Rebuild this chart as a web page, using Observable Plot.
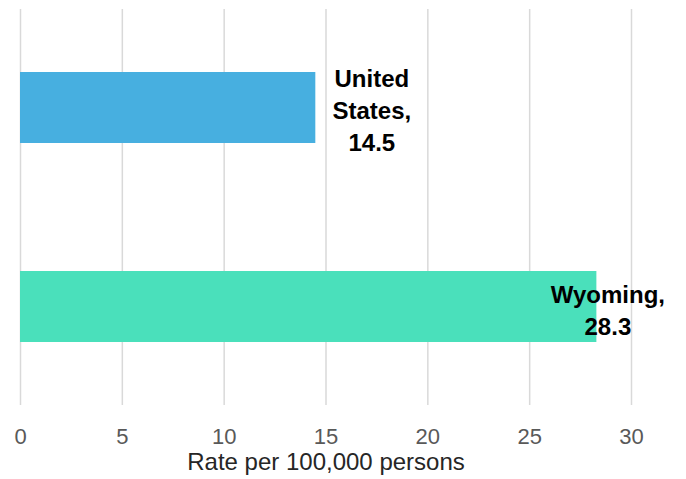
<!DOCTYPE html>
<html>
<head>
<meta charset="utf-8">
<script src="https://cdn.jsdelivr.net/npm/d3@7"></script>
<script src="https://cdn.jsdelivr.net/npm/@observablehq/plot@0.6"></script>
<style>
  html, body { margin: 0; padding: 0; background: #fff; }
  #chart svg { display: block; }
</style>
</head>
<body>
<div id="chart"></div>
<script>
const categories = ["United States", "Wyoming"];
const values = [14.5, 28.3];
const labels = ["United\nStates,\n14.5", "Wyoming,\n28.3"];
const colors = ["#47AFE0", "#4AE0BB"];
const xTicks = [0, 5, 10, 15, 20, 25, 30];
const axisTitle = "Rate per 100,000 persons";

const data = categories.map((c, i) => ({category: c, value: values[i], label: labels[i]}));

const chart = Plot.plot({
  width: 686,
  height: 479,
  marginTop: 9,
  marginBottom: 74,
  marginLeft: 20,
  marginRight: 55,
  style: {fontFamily: "'Liberation Sans', Arial, sans-serif", background: "#fff"},
  x: {domain: [0, 30], axis: null},
  y: {domain: categories, paddingInner: 0.643, paddingOuter: 0.316, axis: null},
  color: {domain: categories, range: colors},
  marks: [
    Plot.gridX(xTicks, {stroke: "#d9d9d9", strokeOpacity: 1, strokeWidth: 1.5}),
    Plot.barX(data, {x: "value", y: "category", fill: "category"}),
    Plot.axisX(xTicks, {tickSize: 0, tickPadding: 23, fontSize: 22, fill: "#595959", label: null}),
    Plot.text([axisTitle], {frameAnchor: "bottom", dy: 64, fontSize: 24, fill: "#262626", text: d => d}),
    Plot.text(data, {filter: d => d.category === "United States", x: "value", y: "category", text: "label",
      dx: 56, dy: 1, fontSize: 24, fontWeight: "bold", fill: "#000", lineHeight: 1.33}),
    Plot.text(data, {filter: d => d.category === "Wyoming", x: "value", y: "category", text: "label",
      dx: 11, dy: 2, fontSize: 24, fontWeight: "bold", fill: "#000", lineHeight: 1.33})
  ]
});
document.getElementById("chart").appendChild(chart);
</script>
</body>
</html>
